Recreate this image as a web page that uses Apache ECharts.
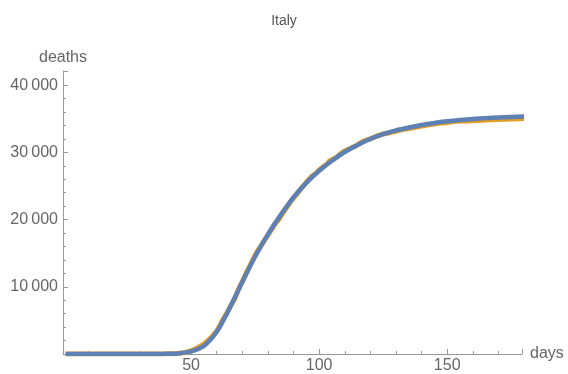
<!DOCTYPE html>
<html>
<head>
<meta charset="utf-8">
<script src="https://cdn.jsdelivr.net/npm/echarts@6/dist/echarts.min.js"></script>
<style>html,body{margin:0;padding:0;background:#fff}#c{width:568px;height:374px}</style>
</head>
<body>
<div id="c"></div>
<script>
// Observed cumulative deaths, day 1 .. 180 (orange)
const dataDays = [];
for (let d = 1; d <= 180; d++) dataDays.push(d);
const observed = [
  0,0,0,0,0,0,0,0,0,0, 0,0,0,0,0,0,0,0,0,0, 0,0,0,0,0,0,0,0,0,0, 0,0,
  1,2,3,7,10,12,17,21,29,
  34,52,79,107,148,197,233,366,463,631,827,1016,1266,1441,1809,2158,2503,2978,3405,4032,4825,5476,6077,6820,7503,8165,9134,10023,10779,11591,12428,
  13155,13915,14681,15362,15887,16523,17127,17669,18279,18849,19468,19899,20465,21067,21645,22170,22745,23227,23660,24114,24648,25085,25549,25969,26384,26644,26977,27359,27682,27967,
  28236,28710,28884,29079,29315,29684,29958,30201,30395,30560,30739,30911,31106,31368,31610,31763,31908,32007,32169,32330,32486,32616,32735,32785,32877,32955,33072,33142,33229,33340,33415,
  33475,33530,33601,33689,33774,33846,33899,33964,34043,34114,34167,34223,34301,34345,34371,34405,34448,34514,34561,34610,34634,34657,34675,34644,34678,34708,34716,34738,34744,34767,
  34788,34818,34833,34854,34861,34869,34899,34914,34926,34938,34945,34954,34967,34984,34997,35017,35028
];
// Fitted model curve (blue)
const fitDays = [1,5,10,15,20,25,30,35,40,45,50,55,60,65,70,75,80,85,90,95,100,105,110,115,120,125,130,135,140,145,150,155,160,165,170,175,180];
const fitted  = [0,0,0,0,0,0,0,2,15,90,380,1200,3300,6800,10700,14500,17800,20700,23300,25450,27250,28750,30050,31100,32000,32700,33270,33700,34070,34370,34610,34810,34970,35090,35190,35265,35330];
const title = 'Italy';
const xName = 'days';
const yName = 'deaths';

const chart = echarts.init(document.getElementById('c'), null, {renderer: 'canvas'});
const fmt = v => v === 0 ? '' : String(v).replace(/\B(?=(\d{3})+(?!\d))/g, '\u2009');
const axisCol = '#9a9a9a';
const labCol = '#666666';
const ff = 'Liberation Sans, Arial';
chart.setOption({
  animation: false,
  title: {text: title, left: 'center', top: 9, textStyle: {fontSize: 14, fontWeight: 'normal', color: '#555', fontFamily: ff}},
  grid: {left: 63, right: 46, top: 71, bottom: 20, containLabel: false},
  xAxis: {
    type: 'value', min: 0, max: 179.2, interval: 50,
    name: xName, nameLocation: 'end', nameGap: 8,
    nameTextStyle: {fontSize: 16, color: labCol, fontFamily: ff, verticalAlign: 'middle'},
    axisLine: {show: true, lineStyle: {color: axisCol, width: 1}},
    axisTick: {show: true, inside: true, length: 5, lineStyle: {color: axisCol}},
    minorTick: {show: true, splitNumber: 5, length: 3, lineStyle: {color: axisCol}},
    splitLine: {show: false},
    axisLabel: {formatter: fmt, fontSize: 16, color: labCol, margin: 4, fontFamily: ff, showMaxLabel: false}
  },
  yAxis: {
    type: 'value', min: 0, max: 42100, interval: 10000,
    name: yName, nameLocation: 'end', nameGap: 5,
    nameTextStyle: {fontSize: 16, color: labCol, fontFamily: ff, align: 'center'},
    axisLine: {show: true, lineStyle: {color: axisCol, width: 1}},
    axisTick: {show: true, inside: true, length: 5, lineStyle: {color: axisCol}},
    minorTick: {show: true, splitNumber: 5, length: 3, lineStyle: {color: axisCol}},
    splitLine: {show: false},
    axisLabel: {formatter: fmt, fontSize: 16, color: labCol, margin: 5, fontFamily: ff, showMaxLabel: false}
  },
  series: [
    {type: 'line', data: dataDays.map((d, i) => [d, observed[i]]), showSymbol: false, symbol: 'none',
     lineStyle: {color: '#E19C24', width: 5}, z: 2},
    {type: 'line', data: fitDays.map((d, i) => [d, fitted[i]]), showSymbol: false, symbol: 'none', smooth: 0.3,
     lineStyle: {color: '#5E81B5', width: 4.5}, z: 3}
  ]
});
</script>
</body>
</html>
